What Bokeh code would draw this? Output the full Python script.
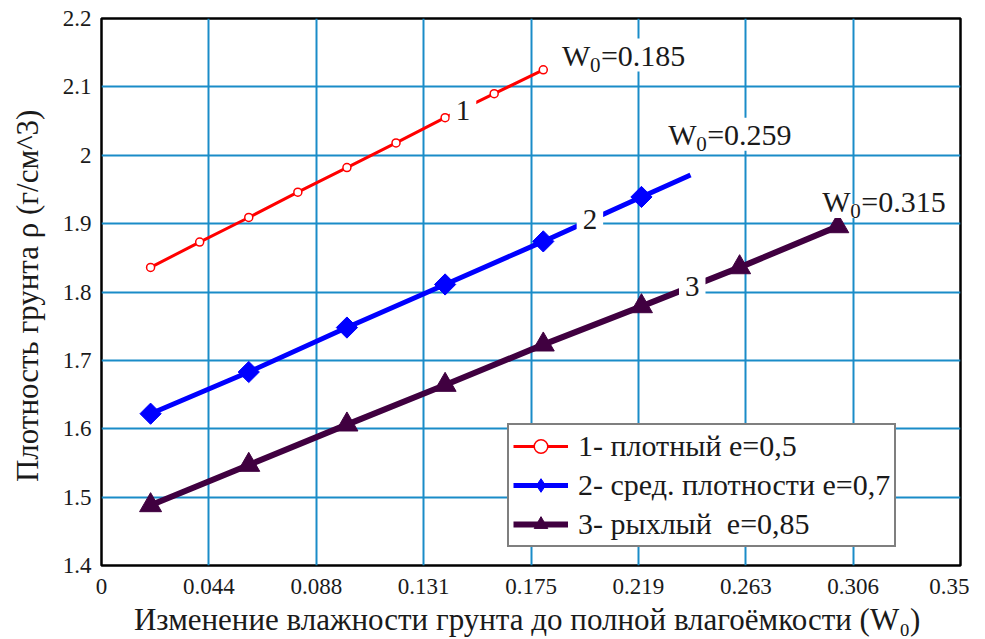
from bokeh.plotting import figure
from bokeh.models import FixedTicker, Label, Legend, LegendItem
from bokeh.embed import file_html
from bokeh.resources import INLINE

# ---- data ----
x1 = [0.02, 0.04, 0.06, 0.08, 0.10, 0.12, 0.14, 0.16, 0.18]
y1 = [1.836, 1.873, 1.909, 1.946, 1.982, 2.018, 2.055, 2.090, 2.125]

x2 = [0.02, 0.06, 0.10, 0.14, 0.18, 0.22, 0.24]
y2 = [1.622, 1.683, 1.748, 1.811, 1.874, 1.939, 1.971]

x3 = [0.02, 0.06, 0.10, 0.14, 0.18, 0.22, 0.26, 0.30]
y3 = [1.488, 1.547, 1.606, 1.664, 1.723, 1.779, 1.836, 1.896]

series_names = ["1- плотный e=0,5", "2- сред. плотности e=0,7", "3- рыхлый  e=0,85"]
curve_ids = ["1", "2", "3"]
curve_id_x = [0.1473, 0.199, 0.2407]
curve_id_y = [2.065, 1.9066, 1.808]

w0_values = ["0.185", "0.259", "0.315"]
w0_x = [0.1876, 0.2309, 0.2937]
w0_y = [2.137, 2.0212, 1.9228]

xtick_vals = [0.0, 0.04375, 0.0875, 0.13125, 0.175, 0.21875, 0.2625, 0.30625, 0.35]
xtick_labels = ["0", "0.044", "0.088", "0.131", "0.175", "0.219", "0.263", "0.306", "0.35"]
ytick_vals = [1.4, 1.5, 1.6, 1.7, 1.8, 1.9, 2.0, 2.1, 2.2]
ytick_labels = ["1.4", "1.5", "1.6", "1.7", "1.8", "1.9", "2", "2.1", "2.2"]

x_label = "Изменение влажности грунта до полной влагоёмкости  (W\u2080)"
y_label = "Плотность грунта  ρ (г/см^3)"

FONT = "Liberation Serif"
TXT = "#1a1a1a"
RED = "#ff0000"
BLUE = "#0000ff"
PURPLE = "#400040"
GRID = "#1a8cc8"

p = figure(width=969, height=639, x_range=(0, 0.35), y_range=(1.4, 2.2),
           output_backend="svg", toolbar_location=None,
           min_border_left=101, min_border_right=9, min_border_top=18,
           min_border_bottom=72)

p.outline_line_color = "black"
p.outline_line_width = 2.5
p.background_fill_color = "white"

for ax in (p.xaxis[0], p.yaxis[0]):
    ax.axis_line_color = None
    ax.major_tick_line_color = None
    ax.minor_tick_line_color = None
    ax.major_label_text_font = FONT
    ax.major_label_text_font_size = "23px"
    ax.major_label_text_color = TXT
    ax.axis_label_text_font = FONT
    ax.axis_label_text_font_style = "normal"
    ax.axis_label_text_color = TXT

p.xaxis.ticker = FixedTicker(ticks=xtick_vals)
p.xaxis.major_label_overrides = {v: s for v, s in zip(xtick_vals, xtick_labels)}
p.yaxis.ticker = FixedTicker(ticks=ytick_vals)
p.yaxis.major_label_overrides = {v: s for v, s in zip(ytick_vals, ytick_labels)}
p.xaxis.major_label_standoff = 7
p.yaxis.major_label_standoff = 4
p.xaxis.axis_label = x_label
p.yaxis.axis_label = y_label
p.xaxis.axis_label_text_font_size = "31px"
p.yaxis.axis_label_text_font_size = "31px"
p.xaxis.axis_label_standoff = 5
p.yaxis.axis_label_standoff = 15

p.grid.grid_line_color = GRID
p.grid.grid_line_width = 2
p.grid.grid_line_alpha = 1.0

# series 1
l1 = p.line(x1, y1, line_color=RED, line_width=3)
s1 = p.scatter(x1, y1, marker="circle", size=8, line_color=RED, fill_color="white",
               line_width=1.5)
# series 2: small diamonds (legend key) hidden under rotated squares (wide diamonds)
l2 = p.line(x2, y2, line_color=BLUE, line_width=5)
s2_key = p.scatter(x2[:-1], y2[:-1], marker="diamond", size=12,
                   line_color=BLUE, fill_color=BLUE)
s2 = p.scatter(x2[:-1], y2[:-1], marker="square", angle=0.7853981634, size=15,
               line_color=BLUE, fill_color=BLUE)
# series 3
l3 = p.line(x3, y3, line_color=PURPLE, line_width=6)
s3 = p.scatter(x3, y3, marker="triangle", size=22, line_color=PURPLE, fill_color=PURPLE)

# curve number labels
for t, xx, yy in zip(curve_ids, curve_id_x, curve_id_y):
    p.add_layout(Label(x=xx, y=yy, text=t, text_align="center", text_baseline="middle",
                       text_font=FONT, text_font_size="29px", text_color=TXT,
                       background_fill_color="white", background_fill_alpha=1.0,
                       padding=6))

# W0 labels
for v, xx, yy in zip(w0_values, w0_x, w0_y):
    common = dict(x=xx, y=yy, y_offset=-10, text_align="left", text_baseline="bottom",
                  text_font=FONT, text_color=TXT,
                  background_fill_color="white", background_fill_alpha=1.0)
    p.add_layout(Label(text="W", text_font_size="30px", **common))
    p.add_layout(Label(text="0", text_font_size="21px", x_offset=28, **common))
    p.add_layout(Label(text="=" + v, text_font_size="30px", x_offset=39, **common))

legend = Legend(items=[LegendItem(label=series_names[0], renderers=[l1, s1]),
                       LegendItem(label=series_names[1], renderers=[l2, s2_key]),
                       LegendItem(label=series_names[2], renderers=[l3, s3])],
                location=(406, 18))
legend.glyph_width = 55
legend.glyph_height = 34
legend.label_height = 34
legend.label_text_font = FONT
legend.label_text_font_size = "30px"
legend.label_text_color = TXT
legend.label_standoff = 10
legend.border_line_color = "black"
legend.border_line_width = 2
legend.background_fill_alpha = 1.0
legend.padding = 4
legend.spacing = 5
legend.margin = 0
p.add_layout(legend)

open("out.html", "w").write(file_html(p, INLINE))
